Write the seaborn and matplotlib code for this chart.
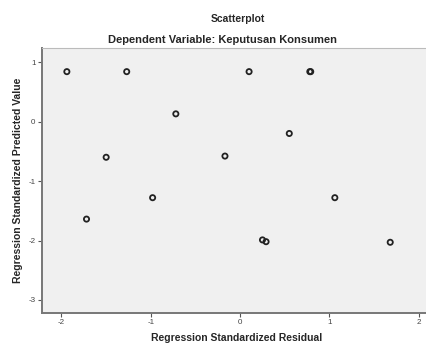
import matplotlib
matplotlib.use("Agg")
import matplotlib.pyplot as plt
import pandas as pd
import seaborn as sns

# values
residual = [-1.94, -1.27, -0.72, -1.50, -0.98, -1.72,
            0.10, 0.78, 0.79, 0.55, -0.17, 1.06, 0.25, 0.29, 1.68]
predicted = [0.84, 0.84, 0.13, -0.60, -1.28, -1.64,
             0.84, 0.84, 0.84, -0.20, -0.58, -1.28, -1.99, -2.02, -2.03]
xticks = [-2, -1, 0, 1, 2]
yticks = [1, 0, -1, -2, -3]

df = pd.DataFrame({"resid": residual, "pred": predicted})

sns.set_style("white")
plt.rcParams["font.family"] = ["Liberation Sans", "DejaVu Sans"]

fig = plt.figure(figsize=(4.27, 3.44), dpi=100)
ax = fig.add_axes([0.098, 0.090, 0.91, 0.770])
ax.set_facecolor("#f0f0f0")

sns.scatterplot(data=df, x="resid", y="pred", ax=ax, marker="o",
                facecolor="none", edgecolor="#222222", linewidth=1.3, s=14)

ax.set_xlim(-2.22, 2.13)
ax.set_ylim(-3.22, 1.235)
ax.set_xticks(xticks)
ax.set_yticks(yticks)
ax.set_xticklabels([str(t) for t in xticks])
ax.set_yticklabels([str(t) for t in yticks])
ax.tick_params(labelsize=5.8, labelcolor="#444444", length=3, width=0.8,
               color="#555555", pad=1.5, direction="out",
               bottom=True, left=True)

for side in ["left", "bottom"]:
    ax.spines[side].set_color("#777777")
    ax.spines[side].set_linewidth(1.4)
ax.spines["top"].set_color("#bbbbbb")
ax.spines["top"].set_linewidth(0.8)
ax.spines["right"].set_visible(False)

ax.set_xlabel("Regression Standardized Residual", fontsize=7.5,
              fontweight="bold", labelpad=4.5)
ax.set_ylabel("Regression Standardized Predicted Value", fontsize=7.5,
              fontweight="bold", labelpad=4)

fig.text(0.558, 0.945, "Scatterplot", ha="center", va="center",
         fontsize=7.5, fontweight="bold")
fig.text(0.522, 0.883, "Dependent Variable: Keputusan Konsumen",
         ha="center", va="center", fontsize=8, fontweight="bold")

fig.savefig("out.png", dpi=100)
